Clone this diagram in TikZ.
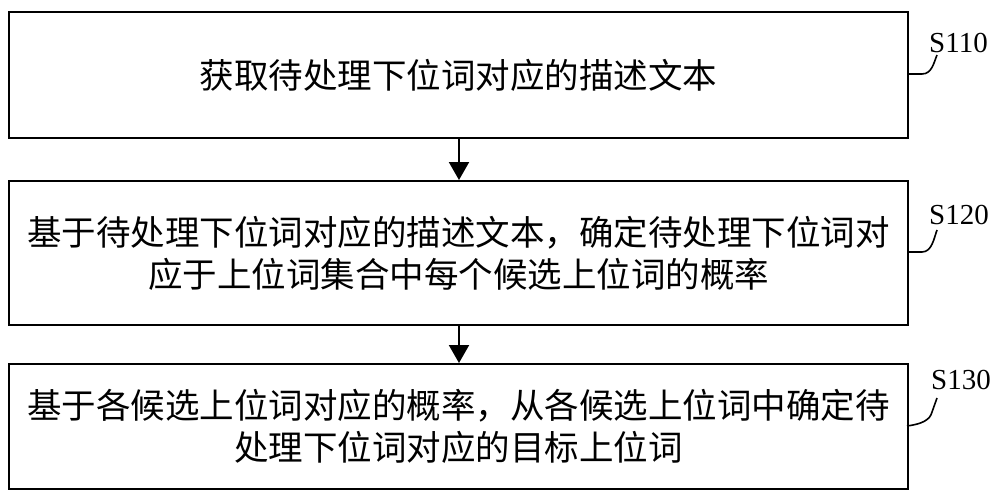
\documentclass[tikz,border=0pt]{standalone}
\usepackage{fontspec}
\setmainfont{Liberation Serif}
\newfontfamily\cjk{Noto Sans CJK SC}
\usetikzlibrary{arrows.meta}
\begin{document}
\begin{tikzpicture}[x=1pt,y=-1pt,
  stepbox/.style={draw,line width=2pt,minimum width=899pt,inner sep=0pt,anchor=north west,
    font=\cjk\fontsize{34.5}{42}\selectfont,align=center},
  lbl/.style={font=\fontsize{29}{31}\selectfont,inner sep=0pt,anchor=west},
  flow/.style={line width=2pt,-{Triangle[length=18pt,width=20pt]}},
  lead/.style={line width=1.6pt}]
\useasboundingbox (0,0) rectangle (1000,500);
\node[stepbox,minimum height=126pt] (b1) at (8,11) {获取待处理下位词对应的描述文本};
\node[stepbox,minimum height=144pt] (b2) at (8,180) {基于待处理下位词对应的描述文本，确定待处理下位词对\\应于上位词集合中每个候选上位词的概率};
\node[stepbox,minimum height=125pt] (b3) at (8,363) {基于各候选上位词对应的概率，从各候选上位词中确定待\\处理下位词对应的目标上位词};
\draw[flow] (b1.south) ++(0.5,0) coordinate (a1) -- (a1 |- b2.north);
\draw[flow] (b2.south) ++(0.5,0) coordinate (a2) -- (a2 |- b3.north);
\node[lbl] (l1) at (929,43) {S110};
\node[lbl] (l2) at (929,215) {S120};
\node[lbl] (l3) at (931,380) {S130};
\coordinate (e1) at (907,74);
\coordinate (e2) at (907,252);
\coordinate (e3) at (907,426);
\draw[lead] (e1) -- (922,74) .. controls (932,74) and (934,62) .. (937,55);
\draw[lead] (e2) -- (922,252) .. controls (932,252) and (934,238) .. (937,230);
\draw[lead] (e3) .. controls (922,424) and (930,420) .. (932,412) -- (937,398);
\end{tikzpicture}
\end{document}
